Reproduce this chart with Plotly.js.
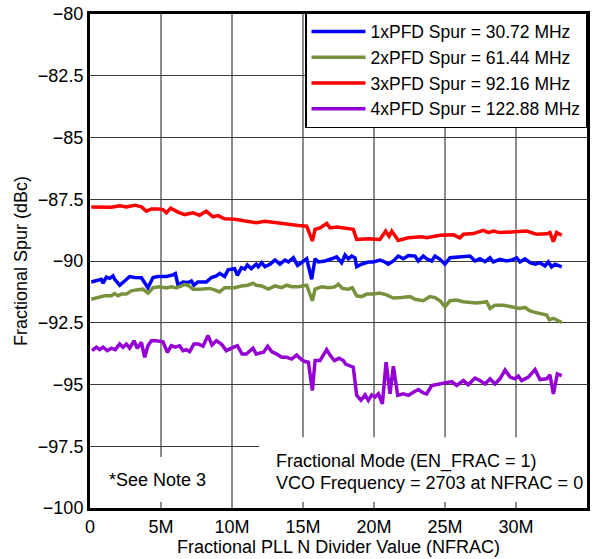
<!DOCTYPE html>
<html>
<head>
<meta charset="utf-8">
<script src="https://cdn.plot.ly/plotly-3.0.1.min.js"></script>
<style>html,body{margin:0;padding:0;background:#fff;}#chart{width:602px;height:559px;}</style>
</head>
<body>
<div id="chart"></div>
<script>
// NFRAC values in millions (M)
const nfracRed = [0.09,0.80,1.50,2.09,2.56,3.15,3.62,3.97,4.32,4.79,5.14,5.38,5.68,6.20,6.67,7.25,7.72,8.19,8.66,9.01,9.48,10.19,10.89,11.71,12.32,13.03,13.97,14.67,15.26,15.66,15.85,16.20,16.67,16.90,17.37,18.19,18.54,18.78,19.60,20.42,20.82,21.06,21.25,21.71,22.42,23.36,23.71,24.65,25.59,26.06,26.29,27.00,27.70,28.05,28.40,28.87,30.05,30.75,31.46,32.16,32.39,32.63,32.86,33.22];
const spur3x = [-87.81,-87.81,-87.82,-87.76,-87.81,-87.74,-87.81,-87.98,-87.89,-87.89,-87.92,-88.05,-87.86,-88.02,-88.12,-88.05,-88.15,-87.98,-88.21,-88.16,-88.29,-88.31,-88.37,-88.45,-88.39,-88.45,-88.52,-88.56,-88.59,-89.19,-88.72,-88.66,-88.48,-88.66,-88.62,-88.68,-88.72,-89.13,-89.10,-89.13,-88.79,-89.00,-88.79,-89.17,-89.06,-89.02,-89.06,-88.96,-88.94,-89.06,-88.92,-88.89,-88.76,-88.85,-88.79,-88.85,-88.79,-88.79,-88.92,-88.90,-88.85,-89.22,-88.85,-88.96];

const nfracBlue = [0.09,0.45,0.80,0.92,1.15,1.39,1.62,1.74,2.09,2.44,2.79,3.15,3.62,4.08,4.44,4.79,5.38,5.85,6.01,6.20,6.55,6.90,7.14,7.32,7.61,8.19,8.55,8.90,9.13,9.48,9.72,10.19,10.38,10.66,10.89,11.08,11.36,11.71,11.85,12.09,12.32,12.68,13.03,13.38,13.73,13.97,14.32,14.62,14.91,15.26,15.61,15.85,16.08,16.55,17.02,17.37,17.72,17.96,18.19,18.43,18.66,18.78,19.13,19.60,19.95,20.42,20.77,21.01,21.36,21.71,22.07,22.42,22.89,23.12,23.47,23.71,24.06,24.30,24.65,25.00,25.35,25.82,26.76,27.11,27.46,27.82,28.17,28.40,28.87,29.34,29.69,30.05,30.28,30.63,30.99,31.34,31.69,32.04,32.28,32.51,32.75,33.22];
const spur1x = [-90.85,-90.81,-90.74,-90.90,-90.65,-90.70,-90.60,-90.74,-90.98,-90.81,-90.63,-90.67,-90.68,-91.08,-90.67,-90.63,-90.63,-90.56,-90.51,-90.98,-90.85,-90.87,-90.81,-90.98,-90.85,-90.85,-90.67,-90.60,-90.50,-90.63,-90.36,-90.31,-90.58,-90.27,-90.33,-90.16,-90.31,-90.13,-90.23,-90.07,-90.23,-90.13,-89.96,-90.13,-89.96,-90.04,-89.87,-90.18,-90.04,-89.91,-90.74,-89.91,-90.04,-90.00,-89.91,-89.83,-90.07,-89.76,-89.91,-89.80,-89.87,-90.23,-90.13,-90.04,-90.04,-89.96,-90.04,-90.13,-90.00,-89.80,-89.91,-89.78,-89.80,-90.00,-89.80,-89.91,-90.00,-89.80,-89.93,-90.13,-89.87,-89.84,-89.80,-90.00,-89.91,-90.03,-89.87,-90.04,-89.93,-90.00,-89.96,-89.87,-90.04,-89.91,-90.07,-90.13,-90.07,-90.20,-90.04,-90.24,-90.13,-90.24];

const nfracGreen = [0.09,0.56,1.03,1.50,1.74,1.97,2.21,2.56,2.91,3.26,3.73,4.08,4.44,4.91,5.38,5.73,6.08,6.43,6.67,6.90,7.25,7.72,8.43,8.78,9.13,9.48,10.19,10.66,11.13,11.48,11.71,12.09,12.56,13.03,13.50,13.85,14.20,14.67,15.26,15.66,15.85,16.32,16.79,17.25,17.49,17.77,18.19,18.47,18.78,19.13,19.48,19.95,20.42,20.89,21.36,21.95,22.54,22.89,23.47,23.94,24.30,24.65,25.00,25.35,25.82,26.29,26.76,27.23,27.70,27.93,28.17,28.52,29.11,29.69,30.05,30.28,30.63,30.99,31.34,31.81,32.16,32.35,32.63,32.98,33.22];
const spur2x = [-91.55,-91.48,-91.41,-91.41,-91.32,-91.41,-91.34,-91.34,-91.21,-91.17,-91.14,-91.30,-91.08,-91.04,-91.09,-91.04,-91.09,-91.01,-90.95,-90.98,-91.14,-91.14,-91.11,-91.17,-91.25,-91.08,-91.08,-91.01,-90.98,-90.90,-90.98,-91.01,-91.14,-91.01,-91.08,-90.98,-91.04,-91.04,-90.98,-91.61,-91.14,-91.04,-91.08,-91.05,-90.94,-91.11,-91.14,-91.08,-91.41,-91.44,-91.34,-91.34,-91.30,-91.37,-91.50,-91.48,-91.44,-91.55,-91.61,-91.44,-91.48,-91.61,-91.85,-91.61,-91.58,-91.65,-91.67,-91.70,-91.67,-91.65,-91.92,-91.79,-91.79,-91.85,-91.88,-91.92,-91.88,-92.02,-92.08,-92.15,-92.19,-92.38,-92.32,-92.42,-92.49];

const nfracPurple = [0.14,0.45,0.68,0.92,1.22,1.50,1.78,2.09,2.32,2.56,2.79,3.10,3.33,3.62,3.85,4.08,4.32,4.67,5.14,5.45,5.73,6.01,6.31,6.55,6.78,7.02,7.32,7.61,7.96,8.31,8.59,8.90,9.25,9.60,9.95,10.38,10.71,11.01,11.48,11.71,11.97,12.21,12.51,12.79,13.15,13.50,13.85,14.20,14.55,14.91,15.14,15.38,15.66,15.85,16.20,16.67,16.90,17.21,17.54,17.84,18.00,18.54,18.78,19.08,19.37,19.60,19.84,20.07,20.31,20.59,20.85,21.13,21.36,21.67,22.07,22.42,22.77,23.12,23.47,23.71,24.06,24.65,25.12,25.47,25.82,26.29,26.64,27.11,27.46,27.82,28.17,28.52,28.87,29.23,29.58,29.93,30.16,30.40,30.87,31.34,31.69,32.16,32.39,32.63,32.91,33.22];
const spur4x = [-93.63,-93.49,-93.59,-93.49,-93.63,-93.53,-93.59,-93.36,-93.49,-93.36,-93.53,-93.23,-93.53,-93.29,-93.90,-93.43,-93.23,-93.23,-93.27,-93.70,-93.43,-93.49,-93.43,-93.63,-93.59,-93.67,-93.36,-93.36,-93.45,-93.02,-93.40,-93.23,-93.36,-93.63,-93.53,-93.43,-93.77,-93.77,-93.53,-93.77,-93.72,-93.70,-93.45,-93.67,-93.77,-93.90,-93.90,-93.97,-93.81,-94.00,-94.07,-94.10,-95.24,-94.03,-94.03,-93.59,-93.81,-94.03,-93.94,-94.03,-94.17,-94.30,-95.44,-95.64,-95.42,-95.64,-95.42,-95.51,-95.38,-95.78,-94.10,-95.38,-94.26,-95.44,-95.38,-95.44,-95.31,-95.20,-95.34,-95.38,-95.04,-94.98,-94.91,-94.88,-95.04,-94.84,-95.01,-94.74,-94.84,-94.98,-94.77,-94.98,-94.77,-94.41,-94.70,-94.77,-94.66,-94.84,-94.70,-94.40,-94.80,-94.77,-94.61,-95.38,-94.57,-94.64];

const seriesNames = ['1xPFD Spur = 30.72 MHz','2xPFD Spur = 61.44 MHz','3xPFD Spur = 92.16 MHz','4xPFD Spur = 122.88 MHz'];
const xTickVals = [0,5,10,15,20,25,30,35];
const xTickText = ['0','5M','10M','15M','20M','25M','30M','35M'];
const yTickVals = [-100,-97.5,-95,-92.5,-90,-87.5,-85,-82.5,-80];
const yTickText = ['\u2212100','\u221297.5','\u221295','\u221292.5','\u221290','\u221287.5','\u221285','\u221282.5','\u221280'];

const colors = ['#0000ff','#76923c','#ff0000','#9400d3'];
const xs = [nfracBlue, nfracGreen, nfracRed, nfracPurple];
const ys = [spur1x, spur2x, spur3x, spur4x];

const FONT = 'Arial, "Liberation Sans", sans-serif';
const traces = xs.map((x,i)=>({
  type:'scatter', mode:'lines', x:x, y:ys[i], name:seriesNames[i],
  line:{color:colors[i], width:3.5}
}));

const layout = {
  width:602, height:559,
  margin:{l:90, r:15, t:12, b:51, pad:0},
  paper_bgcolor:'#fff', plot_bgcolor:'#fff',
  font:{family:FONT, size:18, color:'#000'},
  showlegend:true,
  legend:{x:1, xanchor:'right', y:1.004, yanchor:'top', bgcolor:'#fff', bordercolor:'#000', borderwidth:1.5,
    font:{size:17.5}, itemwidth:54},
  xaxis:{range:[0,35], tickvals:xTickVals, ticktext:xTickText, showgrid:true, gridcolor:'#8c8c8c', gridwidth:2,
    zeroline:false, showline:true, linecolor:'#000', linewidth:3, mirror:true, ticks:'',
    title:{text:'Fractional PLL N Divider Value (NFRAC)', font:{size:18}, standoff:2}},
  yaxis:{range:[-100,-80], tickvals:yTickVals, ticktext:yTickText, showgrid:true, gridcolor:'#3c3c3c', gridwidth:1,
    zeroline:false, showline:true, linecolor:'#000', linewidth:3, mirror:true, ticks:'',
    title:{text:'Fractional Spur (dBc)', font:{size:18}, standoff:6}},
  shapes:[
    {type:'rect', xref:'x', yref:'y', x0:11.9, x1:35, y0:-99.76, y1:-97.14, fillcolor:'#fff', line:{width:0}, layer:'between'},
    {type:'rect', xref:'x', yref:'y', x0:0.7, x1:9.1, y0:-99.76, y1:-97.94, fillcolor:'#fff', line:{width:0}, layer:'between'}
  ],
  annotations:[
    {xref:'x', yref:'y', x:1.2, y:-98.87, xanchor:'left', yanchor:'middle', text:'*See Note 3', showarrow:false, font:{size:18}},
    {xref:'x', yref:'y', x:12.95, y:-98.12, xanchor:'left', yanchor:'middle', align:'left', text:'Fractional Mode (EN_FRAC = 1)', showarrow:false, font:{size:18}},
    {xref:'x', yref:'y', x:12.95, y:-98.97, xanchor:'left', yanchor:'middle', align:'left', text:'VCO Frequency = 2703 at NFRAC = 0', showarrow:false, font:{size:18}}
  ]
};

Plotly.newPlot('chart', traces, layout, {displayModeBar:false, staticPlot:true});
</script>
</body>
</html>
